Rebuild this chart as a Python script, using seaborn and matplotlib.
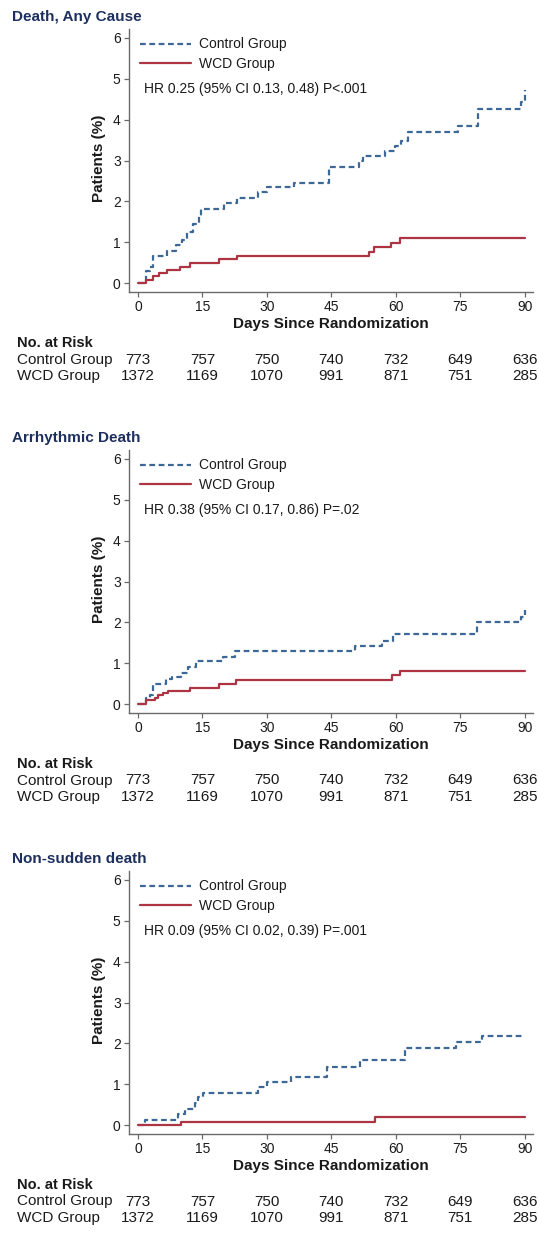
import numpy as np
import pandas as pd
import matplotlib
matplotlib.use("Agg")
import matplotlib.pyplot as plt
import seaborn as sns

# ---------------- data ----------------
titles = ["Death, Any Cause", "Arrhythmic Death", "Non-sudden death"]
hr_texts = ["HR 0.25 (95% CI 0.13, 0.48) P<.001",
            "HR 0.38 (95% CI 0.17, 0.86) P=.02",
            "HR 0.09 (95% CI 0.02, 0.39) P=.001"]
groups = ["Control Group", "WCD Group"]

p1_ctrl_day = [0, 1.9, 2.9, 3.6, 6.7, 8.9, 10.2, 11.5, 12.9, 14.1, 14.7, 19.9, 23.0, 28.0, 30.0,
               36.2, 44.5, 51.3, 52.4, 57.5, 59.8, 61.3, 62.9, 74.5, 79.2, 89.0, 90.0]
p1_ctrl_pct = [0, 0.30, 0.40, 0.65, 0.78, 0.93, 1.05, 1.25, 1.45, 1.65, 1.81, 1.96, 2.07, 2.22, 2.34,
               2.46, 2.85, 3.00, 3.12, 3.24, 3.35, 3.47, 3.69, 3.85, 4.27, 4.44, 4.72]
p1_wcd_day = [0, 1.9, 3.6, 4.8, 6.7, 9.8, 12.2, 18.9, 23.0, 53.8, 54.8, 58.9, 61.0, 90.0]
p1_wcd_pct = [0, 0.08, 0.18, 0.24, 0.32, 0.40, 0.48, 0.58, 0.66, 0.77, 0.87, 0.98, 1.10, 1.10]

p2_ctrl_day = [0, 1.9, 2.7, 3.5, 6.6, 7.8, 10.1, 11.6, 13.6, 19.8, 22.5, 50.5, 56.7, 59.4, 78.8, 89.1, 90.0]
p2_ctrl_pct = [0, 0.14, 0.22, 0.50, 0.62, 0.66, 0.77, 0.90, 1.05, 1.15, 1.31, 1.43, 1.55, 1.72, 2.00, 2.12, 2.30]
p2_wcd_day = [0, 1.9, 3.9, 4.7, 5.8, 7.0, 12.0, 18.9, 22.9, 59.0, 60.9, 90.0]
p2_wcd_pct = [0, 0.10, 0.14, 0.22, 0.26, 0.32, 0.40, 0.49, 0.58, 0.70, 0.82, 0.82]

p3_ctrl_day = [0, 1.6, 9.3, 10.9, 13.2, 14.0, 15.1, 28.0, 29.9, 35.7, 43.9, 51.6, 62.1, 74.1, 80.0, 90.0]
p3_ctrl_pct = [0, 0.12, 0.26, 0.40, 0.54, 0.69, 0.79, 0.92, 1.05, 1.17, 1.43, 1.58, 1.89, 2.04, 2.19, 2.19]
p3_wcd_day = [0, 9.9, 55.1, 90.0]
p3_wcd_pct = [0, 0.08, 0.20, 0.20]

risk_days = [0, 15, 30, 45, 60, 75, 90]
risk_control = [773, 757, 750, 740, 732, 649, 636]
risk_wcd = [1372, 1169, 1070, 991, 871, 751, 285]

panels = [
    ((p1_ctrl_day, p1_ctrl_pct), (p1_wcd_day, p1_wcd_pct)),
    ((p2_ctrl_day, p2_ctrl_pct), (p2_wcd_day, p2_wcd_pct)),
    ((p3_ctrl_day, p3_ctrl_pct), (p3_wcd_day, p3_wcd_pct)),
]

# ---------------- style ----------------
sns.set_theme(style="ticks")
plt.rcParams["font.family"] = ["Liberation Sans", "DejaVu Sans"]

W, H = 539, 1233
fig = plt.figure(figsize=(W / 100, H / 100), dpi=100)

palette = {"Control Group": "#3d6896", "WCD Group": "#ad3442"}
dash_map = {"Control Group": (2.6, 1.6), "WCD Group": ""}
title_color = "#1d2f5f"
axis_color = "#6a6a6a"
text_color = "#1a1a1a"

ax_left, ax_w = 129, 404
ax_bottom0, ax_h = 292, 263
step = 421

for i, ((cd, cp), (wd, wp)) in enumerate(panels):
    o = step * i
    ax = fig.add_axes([ax_left / W, 1 - (ax_bottom0 + o) / H, ax_w / W, ax_h / H])
    df = pd.concat([
        pd.DataFrame({"day": cd, "pct": cp, "group": groups[0]}),
        pd.DataFrame({"day": wd, "pct": wp, "group": groups[1]}),
    ], ignore_index=True)
    sns.lineplot(data=df, x="day", y="pct", hue="group", style="group",
                 hue_order=groups, style_order=groups, palette=palette,
                 dashes=dash_map, drawstyle="steps-post", estimator=None,
                 sort=False, linewidth=1.6, legend=False, ax=ax)

    ax.set_xlim(-2.1, 91.9)
    ax.set_ylim(-0.22, 6.22)
    ax.set_xticks(risk_days)
    ax.set_yticks(range(0, 7))
    ax.set_xlabel("")
    ax.set_ylabel("")
    sns.despine(ax=ax)
    for s in ["left", "bottom"]:
        ax.spines[s].set_color(axis_color)
        ax.spines[s].set_linewidth(1.0)
    ax.tick_params(direction="out", length=3.5, width=0.9, color=axis_color,
                   labelsize=10, labelcolor=text_color, pad=2.5)

    # legend
    leg = ax.legend(handles=ax.lines[:2], labels=groups, loc="upper left",
                    bbox_to_anchor=(0.027, 0.968), frameon=False, fontsize=10,
                    handlelength=3.7, handletextpad=0.55, labelspacing=0.42,
                    borderpad=0, borderaxespad=0)
    for t in leg.get_texts():
        t.set_color(text_color)

    ax.text(1.4, 4.74, hr_texts[i], fontsize=10, va="center", ha="left", color=text_color)

    # axis labels
    ax.text(-(ax_left - 99) / ax_w, 0.51, "Patients (%)", rotation=90, transform=ax.transAxes,
            ha="center", va="center", fontsize=11, fontweight="bold", color=text_color)
    ax.text(0.5, -(324.4 - 292) / ax_h, "Days Since Randomization", transform=ax.transAxes,
            ha="center", va="center", fontsize=11, fontweight="bold", color=text_color)

    # title
    fig.text(12 / W, 1 - (17 + o) / H, titles[i], fontsize=11, fontweight="bold",
             color=title_color, ha="left", va="center")

    # risk table
    y_hdr = 1 - (343 + o) / H
    y_c = -(359.5 - 292) / ax_h
    y_w = -(376 - 292) / ax_h
    fig.text(17 / W, y_hdr, "No. at Risk", fontsize=10.5, fontweight="bold",
             ha="left", va="center", color=text_color)
    fig.text(17 / W, 1 - (359.5 + o) / H, "Control Group", fontsize=11,
             ha="left", va="center", color=text_color)
    fig.text(17 / W, 1 - (376 + o) / H, "WCD Group", fontsize=11,
             ha="left", va="center", color=text_color)
    tr = ax.get_xaxis_transform()
    for d, c, w in zip(risk_days, risk_control, risk_wcd):
        ax.text(d, y_c, str(c), transform=tr, ha="center", va="center", fontsize=11, color=text_color)
        ax.text(d, y_w, str(w), transform=tr, ha="center", va="center", fontsize=11, color=text_color)

fig.savefig("out.png", dpi=100)
